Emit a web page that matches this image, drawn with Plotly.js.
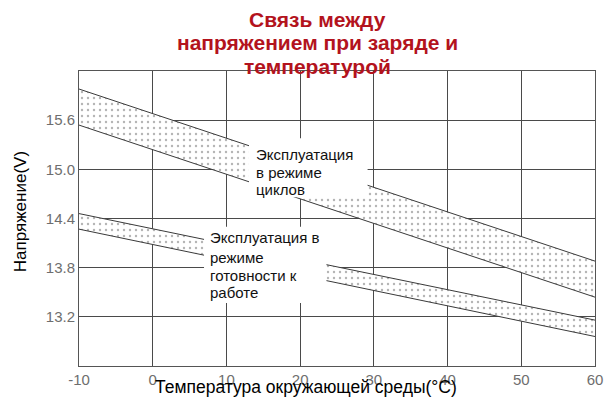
<!DOCTYPE html>
<html>
<head>
<meta charset="utf-8">
<script src="https://cdn.plot.ly/plotly-3.0.1.min.js"></script>
<style>
  html, body { margin: 0; padding: 0; background: #fff; }
  #chart { width: 614px; height: 403px; }
</style>
</head>
<body>
<div id="chart"></div>
<script>
// ---------------- data ----------------
var temps = [-10, 60];
var cycle_high = [15.98, 13.88];
var cycle_low = [15.54, 13.44];
var float_high = [14.46, 13.16];
var float_low = [14.27, 12.96];

var x_ticks = [-10, 0, 10, 20, 30, 40, 50, 60];
var x_labels = ['-10', '0', '10', '20', '30', '40', '50', '60'];
var y_ticks = [13.2, 13.8, 14.4, 15.0, 15.6];
var y_labels = ['13.2', '13.8', '14.4', '15.0', '15.6'];

var title_lines = ['Связь между', 'напряжением при заряде и', 'температурой'];
var cycle_lines = ['Эксплуатация', 'в режиме', 'циклов'];
var float_lines = ['Эксплуатация в', 'режиме', 'готовности к', 'работе'];

var lineStyle = {color: '#3a3a3a', width: 1};
var dots = {shape: '.', fgcolor: '#b4b4b4', bgcolor: '#ffffff', size: 6, solidity: 0.12};

// ---------------- traces ----------------
var trace1 = {x: temps, y: cycle_low, mode: 'lines', line: lineStyle, hoverinfo: 'skip'};
var trace2 = {x: temps, y: cycle_high, mode: 'lines', line: lineStyle, hoverinfo: 'skip',
              fill: 'tonexty', fillcolor: 'rgba(0,0,0,0)', fillpattern: dots};
var trace3 = {x: temps, y: float_low, mode: 'lines', line: lineStyle, hoverinfo: 'skip'};
var trace4 = {x: temps, y: float_high, mode: 'lines', line: lineStyle, hoverinfo: 'skip',
              fill: 'tonexty', fillcolor: 'rgba(0,0,0,0)', fillpattern: dots};

// ---------------- text ----------------
var annotations = [];

// red title, one annotation per line to keep the tight spacing
var title_y = [1.173, 1.095, 1.0136];
title_lines.forEach(function (t, i) {
  annotations.push({text: t, xref: 'paper', yref: 'paper', x: 0.463, y: title_y[i],
    xanchor: 'center', yanchor: 'middle', showarrow: false,
    font: {size: 21, color: '#b3131d', weight: 'bold'}});
});

// label texts (white boxes behind them are shapes)
var cycle_y = [15.175, 14.967, 14.748];
cycle_lines.forEach(function (t, i) {
  annotations.push({text: t, xref: 'x', yref: 'y', x: 13.74, y: cycle_y[i],
    xanchor: 'left', yanchor: 'middle', showarrow: false,
    font: {size: 15, color: '#111'}});
});
var float_y = [14.174, 13.93, 13.71, 13.503];
float_lines.forEach(function (t, i) {
  annotations.push({text: t, xref: 'x', yref: 'y', x: 7.5, y: float_y[i],
    xanchor: 'left', yanchor: 'middle', showarrow: false,
    font: {size: 15, color: '#111'}});
});

// axis titles
annotations.push({text: 'Температура окружающей среды(°C)', xref: 'paper', yref: 'paper',
  x: 0.44, y: -0.071, xanchor: 'center', yanchor: 'middle', showarrow: false,
  font: {size: 17.5, color: '#000'}});
annotations.push({text: 'Напряжение(V)', xref: 'paper', yref: 'paper', textangle: -90,
  x: -0.114, y: 0.522, xanchor: 'center', yanchor: 'middle', showarrow: false,
  font: {size: 17, color: '#000'}});

var layout = {
  width: 614, height: 403,
  margin: {l: 79, r: 19, t: 71, b: 37},
  paper_bgcolor: '#ffffff', plot_bgcolor: '#ffffff',
  showlegend: false,
  font: {family: 'Liberation Sans, Arial, sans-serif'},
  xaxis: {
    range: [-10, 60], tickvals: x_ticks, ticktext: x_labels, ticks: '',
    showgrid: true, gridcolor: '#4a4a4a', gridwidth: 1,
    showline: true, mirror: true, linecolor: '#555', linewidth: 1,
    zeroline: false, tickfont: {size: 15, color: '#6e6e6e'}, fixedrange: true
  },
  yaxis: {
    range: [12.6, 16.2], tickvals: y_ticks, ticktext: y_labels, ticks: '',
    showgrid: true, gridcolor: '#4a4a4a', gridwidth: 1,
    showline: true, mirror: true, linecolor: '#555', linewidth: 1,
    zeroline: false, tickfont: {size: 15, color: '#6e6e6e'}, fixedrange: true
  },
  // white boxes behind the two labels: they break the lines and grid like the original
  shapes: [
    {type: 'rect', xref: 'x', yref: 'y', x0: 13.06, x1: 29.15, y0: 14.66, y1: 15.38,
     fillcolor: '#ffffff', line: {width: 0}, layer: 'above'},
    {type: 'rect', xref: 'x', yref: 'y', x0: 6.96, x1: 23.57, y0: 13.37, y1: 14.30,
     fillcolor: '#ffffff', line: {width: 0}, layer: 'above'}
  ],
  annotations: annotations
};

var config = {displayModeBar: false, staticPlot: true};
Plotly.newPlot('chart', [trace1, trace2, trace3, trace4], layout, config);
</script>
</body>
</html>
